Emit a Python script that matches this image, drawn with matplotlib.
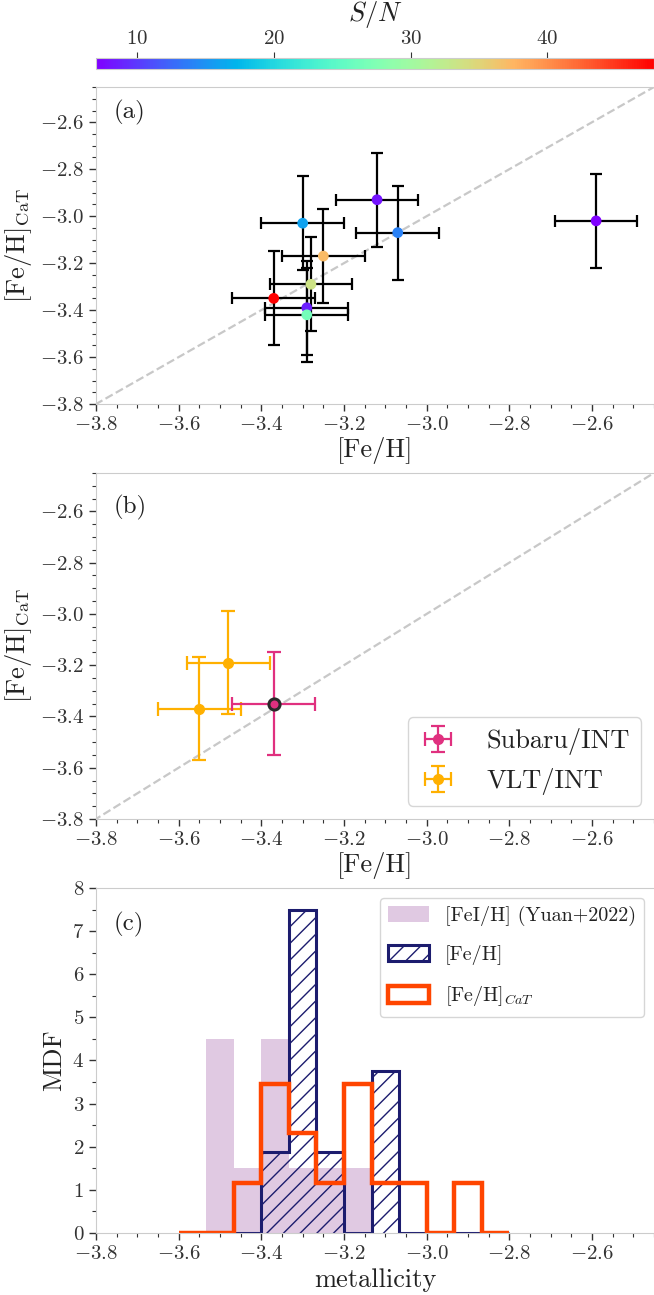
import numpy as np
import matplotlib
matplotlib.use('Agg')
import matplotlib.pyplot as plt
from matplotlib.ticker import MultipleLocator

plt.rcParams['font.family'] = 'serif'
plt.rcParams['font.serif'] = ['cmr10', 'DejaVu Serif']
plt.rcParams['mathtext.fontset'] = 'cm'
plt.rcParams['axes.formatter.use_mathtext'] = True
plt.rcParams['text.color'] = '#222222'
plt.rcParams['axes.labelcolor'] = '#222222'
plt.rcParams['xtick.color'] = '#333333'
plt.rcParams['ytick.color'] = '#333333'
plt.rcParams['hatch.linewidth'] = 1.0

# panel (a): stars with both measurements
feh = [-3.30, -3.12, -3.07, -3.25, -3.28, -3.37, -3.29, -3.29, -2.59]
feh_err = [0.1, 0.1, 0.1, 0.1, 0.1, 0.1, 0.1, 0.1, 0.1]
feh_cat = [-3.03, -2.93, -3.07, -3.17, -3.29, -3.35, -3.39, -3.42, -3.02]
cat_err = [0.2, 0.2, 0.2, 0.2, 0.2, 0.2, 0.2, 0.2, 0.2]
snr = [16.0, 8.0, 14.0, 37.0, 33.5, 47.8, 8.6, 26.6, 7.0]

# panel (b)
subaru_feh = [-3.37]
subaru_cat = [-3.35]
vlt_feh = [-3.48, -3.55]
vlt_cat = [-3.19, -3.37]

# panel (c): MDF (density per bin)
bin_edges = np.linspace(-3.6, -2.8, 13)
yuan_mdf = [0, 4.5, 1.5, 4.5, 1.5, 1.5, 1.5, 0, 0, 0, 0, 0]
feh_mdf = [0, 0, 0, 1.875, 7.5, 1.875, 0, 3.75, 0, 0, 0, 0]
cat_mdf = [0, 0, 1.154, 3.462, 2.308, 1.154, 3.462, 1.154, 1.154, 0, 1.154, 0]

lims = (-3.8, -2.45)
spine_col = '#cccccc'
tick_fs = 15
label_fs = 19

fig = plt.figure(figsize=(6.54, 12.95), dpi=100)
L, W = 0.1468, 0.8532
cax = fig.add_axes([L, 0.9467, W, 0.0085])
ax1 = fig.add_axes([L, 0.688, W, 0.2448])
ax2 = fig.add_axes([L, 0.3676, W, 0.2672])
ax3 = fig.add_axes([L, 0.0479, W, 0.2664])


def style(ax, ymajor, yminor):
    for s in ['left', 'bottom', 'top']:
        ax.spines[s].set_color(spine_col)
    ax.spines['right'].set_visible(False)
    ax.xaxis.set_major_locator(MultipleLocator(0.2))
    ax.xaxis.set_minor_locator(MultipleLocator(0.05))
    ax.yaxis.set_major_locator(MultipleLocator(ymajor))
    ax.yaxis.set_minor_locator(MultipleLocator(yminor))
    ax.tick_params(which='major', length=5, width=1, labelsize=tick_fs)
    ax.tick_params(which='minor', length=3, width=0.8)
    ax.set_xlim(lims)


# (a)
ax1.plot([-4, -2], [-4, -2], ls='--', color='#c8c8c8', lw=1.6, zorder=1)
ax1.errorbar(feh, feh_cat, xerr=feh_err, yerr=cat_err, fmt='none',
             ecolor='black', elinewidth=1.6, capsize=4.5, capthick=1.6, zorder=2)
sc = ax1.scatter(feh, feh_cat, c=snr, cmap='rainbow', s=45, zorder=3)
style(ax1, 0.2, 0.05)
ax1.set_ylim(lims)
ax1.set_xlabel('[Fe/H]', fontsize=label_fs, labelpad=2)
ax1.set_ylabel(r'[Fe/H]$_{\rm CaT}$', fontsize=label_fs)
ax1.text(0.032, 0.92, '(a)', transform=ax1.transAxes, fontsize=18, va='center')

cb = fig.colorbar(sc, cax=cax, orientation='horizontal')
cb.outline.set_edgecolor(spine_col)
cax.xaxis.set_ticks_position('top')
cax.xaxis.set_label_position('top')
cax.tick_params(labelsize=tick_fs, length=4)
cb.set_ticks([10, 20, 30, 40])
cb.set_label(r'$S/N$', fontsize=label_fs, labelpad=6)

# (b)
ax2.plot([-4, -2], [-4, -2], ls='--', color='#c8c8c8', lw=1.6, zorder=1)
ax2.errorbar(subaru_feh, subaru_cat, xerr=0.1, yerr=0.2, fmt='o', color='#e0307f',
             ms=7, elinewidth=1.6, capsize=5, capthick=1.6,
             label='Subaru/INT', zorder=3)
ax2.plot(subaru_feh, subaru_cat, 'o', mfc='#e0307f', mec='#2a2a2a', mew=2.2,
         ms=8, zorder=4)
ax2.errorbar(vlt_feh, vlt_cat, xerr=0.1, yerr=0.2, fmt='o', color='#ffb000',
             ms=7, elinewidth=1.6, capsize=5, capthick=1.6,
             label='VLT/INT', zorder=2)
style(ax2, 0.2, 0.05)
ax2.set_ylim(lims)
ax2.set_xlabel('[Fe/H]', fontsize=label_fs, labelpad=2)
ax2.set_ylabel(r'[Fe/H]$_{\rm CaT}$', fontsize=label_fs)
ax2.text(0.032, 0.9, '(b)', transform=ax2.transAxes, fontsize=18, va='center')
leg = ax2.legend(loc='lower right', fontsize=19, frameon=True, handlelength=1.5,
                 handletextpad=1.1)
leg.get_frame().set_edgecolor(spine_col)

# (c)
centers = 0.5 * (bin_edges[1:] + bin_edges[:-1])
ax3.hist(centers, bins=bin_edges, weights=yuan_mdf, histtype='stepfilled',
         color='#e0c9e2', label='[FeI/H] (Yuan+2022)')
ax3.hist(centers, bins=bin_edges, weights=feh_mdf, histtype='step', hatch='//',
         edgecolor='#1c1c6e', lw=2.2, label='[Fe/H]')
ax3.hist(centers, bins=bin_edges, weights=cat_mdf, histtype='step',
         edgecolor='#ff4500', lw=3.2, label=r'[Fe/H]$_{CaT}$')
style(ax3, 1, 0.5)
ax3.set_ylim(0, 8)
ax3.set_xlabel('metallicity', fontsize=label_fs, labelpad=4)
ax3.set_ylabel('MDF', fontsize=label_fs)
ax3.text(0.032, 0.893, '(c)', transform=ax3.transAxes, fontsize=18, va='center')
leg = ax3.legend(loc='upper right', fontsize=14.5, frameon=True, handlelength=2.0,
                 handleheight=0.85, labelspacing=0.95)
leg.get_frame().set_edgecolor(spine_col)

fig.savefig('out.png', dpi=100)
